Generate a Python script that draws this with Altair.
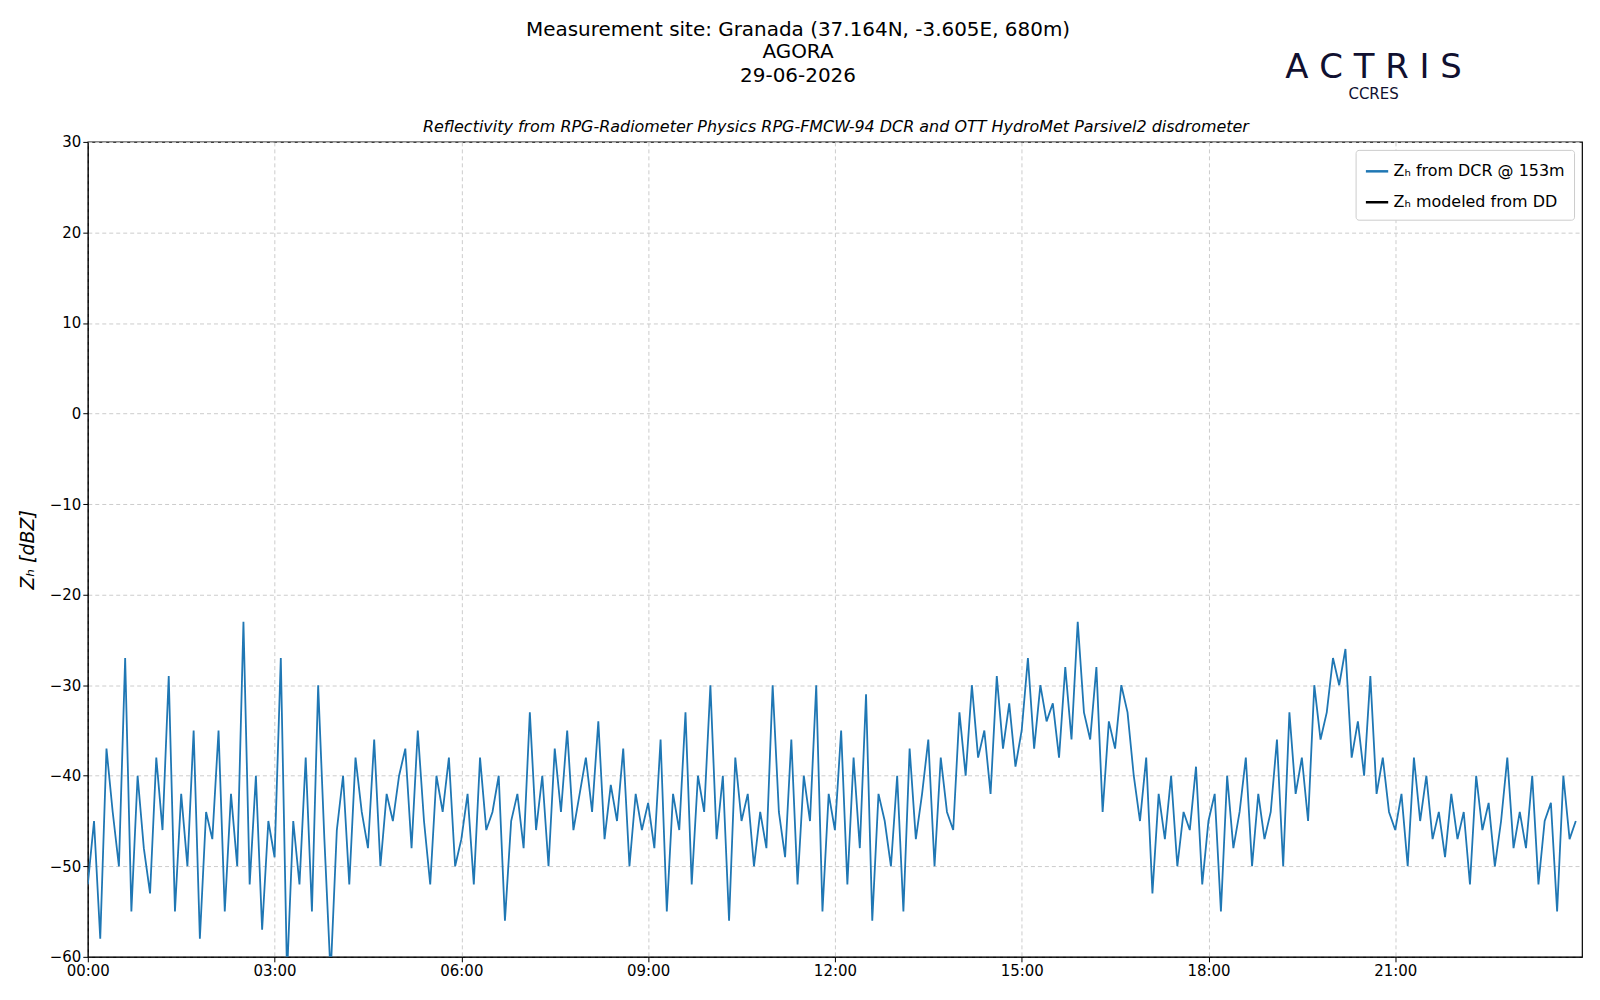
import altair as alt
import pandas as pd

# 6-minute samples of Z_H from the DCR at 153 m, 00:00 -> 24:00
zh_dcr = [
    -52, -45, -58, -37, -44, -50, -27, -55, -40, -48,
    -53, -38, -46, -29, -55, -42, -50, -35, -58, -44,
    -47, -35, -55, -42, -50, -23, -52, -40, -57, -45,
    -49, -27, -62, -45, -52, -38, -55, -30, -47, -62,
    -46, -40, -52, -38, -44, -48, -36, -50, -42, -45,
    -40, -37, -48, -35, -45, -52, -40, -44, -38, -50,
    -47, -42, -52, -38, -46, -44, -40, -56, -45, -42,
    -48, -33, -46, -40, -50, -37, -44, -35, -46, -42,
    -38, -44, -34, -47, -41, -45, -37, -50, -42, -46,
    -43, -48, -36, -55, -42, -46, -33, -52, -40, -44,
    -30, -47, -40, -56, -38, -45, -42, -50, -44, -48,
    -30, -44, -49, -36, -52, -40, -45, -30, -55, -42,
    -46, -35, -52, -38, -48, -31, -56, -42, -45, -50,
    -40, -55, -37, -47, -42, -36, -50, -38, -44, -46,
    -33, -40, -30, -38, -35, -42, -29, -37, -32, -39,
    -35, -27, -37, -30, -34, -32, -38, -28, -36, -23,
    -33, -36, -28, -44, -34, -37, -30, -33, -40, -45,
    -38, -53, -42, -47, -40, -50, -44, -46, -39, -52,
    -45, -42, -55, -40, -48, -44, -38, -50, -42, -47,
    -44, -36, -50, -33, -42, -38, -45, -30, -36, -33,
    -27, -30, -26, -38, -34, -40, -29, -42, -38, -44,
    -46, -42, -50, -38, -45, -40, -47, -44, -49, -42,
    -47, -44, -52, -40, -46, -43, -50, -45, -38, -48,
    -44, -48, -40, -52, -45, -43, -55, -40, -47, -45,
]
hours = [i * 0.1 for i in range(len(zh_dcr))]
series = ["Zₕ from DCR @ 153m", "Zₕ modeled from DD"]
header = ["Measurement site: Granada (37.164N, -3.605E, 680m)", "AGORA", "29-06-2026"]
subtitle = "Reflectivity from RPG-Radiometer Physics RPG-FMCW-94 DCR and OTT HydroMet Parsivel2 disdrometer"

df = pd.DataFrame({"hour": hours, "zh": zh_dcr, "serie": series[0]})

grid = dict(gridDash=[4, 3], gridColor="#cccccc", domainColor="black", tickColor="black",
            labelFontSize=15, labelColor="black", labelFont="DejaVu Sans", tickSize=5,
            labelFlush=False)

line = alt.Chart(df).mark_line(strokeWidth=1.8, clip=True).encode(
    x=alt.X("hour:Q", title=None, scale=alt.Scale(domain=[0, 24], nice=False),
            axis=alt.Axis(values=[0, 3, 6, 9, 12, 15, 18, 21], **grid,
                          labelExpr="(datum.value<10?'0':'')+datum.value+':00'")),
    y=alt.Y("zh:Q", title="Zₕ [dBZ]", scale=alt.Scale(domain=[-60, 30], nice=False),
            axis=alt.Axis(values=list(range(-60, 31, 10)), **grid, titleFontSize=19,
                          titleFontStyle="italic", titleFontWeight="normal", titleColor="black",
                          titleFont="DejaVu Sans", titlePadding=12)),
    color=alt.Color("serie:N", title=None,
                    scale=alt.Scale(domain=series, range=["#1f77b4", "black"]),
                    legend=alt.Legend(orient="top-right", symbolType="stroke", symbolStrokeWidth=2.5,
                                      labelFontSize=16, labelFont="DejaVu Sans", symbolSize=500,
                                      labelLimit=0, rowPadding=10, fillColor="white",
                                      strokeColor="#cccccc", padding=9, cornerRadius=3, offset=8)),
)

head = alt.Chart(pd.DataFrame({"t": header, "y": [-112, -90, -66]})).mark_text(
    color="black", font="DejaVu Sans", fontSize=20).encode(
    text="t:N", x=alt.value(712), y=alt.Y("y:Q", scale=None))

sub = alt.Chart(pd.DataFrame({"t": [subtitle]})).mark_text(
    color="black", font="DejaVu Sans", fontSize=16, fontStyle="italic").encode(
    text="t:N", x=alt.value(750), y=alt.value(-15))

logo = alt.Chart(pd.DataFrame({"t": ["A C T R I S", "CCRES"], "y": [-74, -48], "s": [34, 15]})).mark_text(
    color="#101030", font="DejaVu Sans").encode(
    text="t:N", x=alt.value(1289), y=alt.Y("y:Q", scale=None),
    size=alt.Size("s:Q", scale=None, legend=None))

chart = alt.layer(line, head, sub, logo).properties(
    width=1498, height=817,
    autosize=alt.AutoSizeParams(type="none"),
    padding={"left": 80, "top": 133, "right": 10, "bottom": 30},
).configure_view(stroke="black", strokeWidth=1.2)

chart.save("out.html", embed_options={"renderer": "svg", "actions": False})
